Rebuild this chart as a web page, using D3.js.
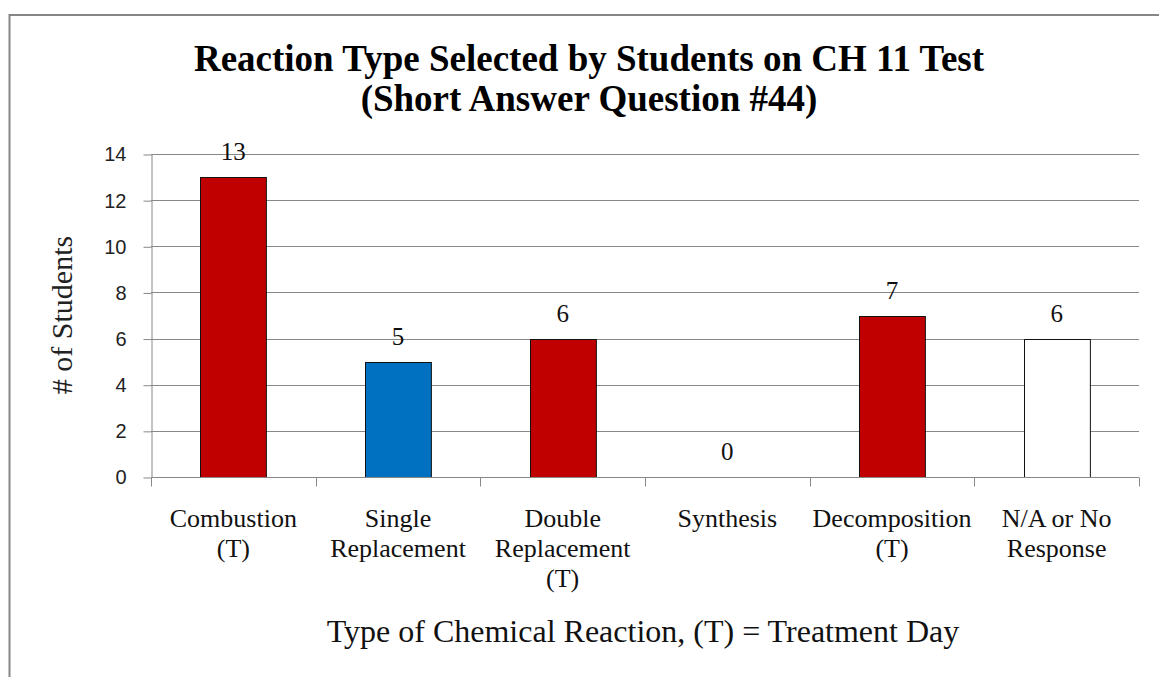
<!DOCTYPE html>
<html>
<head>
<meta charset="utf-8">
<script src="https://cdn.jsdelivr.net/npm/d3@7"></script>
<style>
  body { margin: 0; background: #fff; }
</style>
</head>
<body>
<svg id="chart" width="1159" height="677"></svg>
<script>
// data
var categories = [["Combustion", "(T)"], ["Single", "Replacement"], ["Double", "Replacement", "(T)"],
    ["Synthesis"], ["Decomposition", "(T)"], ["N/A or No", "Response"]];
var students = [13, 5, 6, 0, 7, 6];
var barColors = ["#c00000", "#0070c0", "#c00000", "#c00000", "#c00000", "#ffffff"];
var yTicks = [0, 2, 4, 6, 8, 10, 12, 14];

var svg = d3.select("svg#chart"),
    plotLeft = 151, plotRight = 1139, plotTop = 154, plotBottom = 477;

var serif = "'Liberation Serif', 'Times New Roman', serif";

// outer border of the chart area (runs off the right and bottom)
svg.append("rect")
    .attr("x", 9.5).attr("y", 15)
    .attr("width", 1200).attr("height", 700)
    .attr("fill", "none")
    .attr("stroke", "#868686")
    .attr("stroke-width", 2);

// title
var title = svg.append("text")
    .attr("text-anchor", "middle")
    .style("font-family", serif)
    .style("font-size", "37px")
    .style("font-weight", "bold");
title.append("tspan").attr("x", 589).attr("y", 71).text("Reaction Type Selected by Students on CH 11 Test");
title.append("tspan").attr("x", 589).attr("y", 111).text("(Short Answer Question #44)");

var x = d3.scaleBand()
    .domain(d3.range(categories.length))
    .range([plotLeft, plotRight])
    .paddingInner(0.6)
    .paddingOuter(0.3);

var xCat = d3.scaleBand()
    .domain(d3.range(categories.length))
    .range([plotLeft, plotRight]);

var y = d3.scaleLinear()
    .domain([0, 14])
    .range([plotBottom, plotTop]);

// gridlines
svg.append("g")
    .selectAll("line")
    .data(yTicks.slice(1))
    .enter()
    .append("line")
    .attr("x1", plotLeft).attr("x2", plotRight)
    .attr("y1", d => Math.round(y(d)) + 0.5)
    .attr("y2", d => Math.round(y(d)) + 0.5)
    .attr("stroke", "#888")
    .attr("stroke-width", 1);

// y axis
var yAxis = svg.append("g")
    .attr("transform", "translate(" + (plotLeft + 0.5) + ",0.5)")
    .call(d3.axisLeft(y).tickValues(yTicks).tickSize(8).tickPadding(17).tickSizeOuter(0));
yAxis.select(".domain").attr("stroke", "#888");
yAxis.selectAll(".tick line").attr("stroke", "#888");
yAxis.selectAll(".tick text")
    .style("font-family", "'Liberation Sans', Arial, sans-serif")
    .style("font-size", "20px")
    .attr("fill", "#222");

// bars
svg.append("g")
    .selectAll("rect")
    .data(students)
    .enter()
    .append("rect")
    .attr("x", (d, i) => Math.round(x(i)) + 0.5)
    .attr("y", d => Math.round(y(d)) + 0.5)
    .attr("width", x.bandwidth())
    .attr("height", d => y(0) - Math.round(y(d)))
    .attr("fill", (d, i) => barColors[i])
    .attr("stroke", d => d > 0 ? "#111" : "none")
    .attr("stroke-width", 1);

// x axis
var xAxis = svg.append("g")
    .attr("transform", "translate(0," + (plotBottom + 0.5) + ")");
xAxis.append("line")
    .attr("x1", plotLeft).attr("x2", plotRight)
    .attr("stroke", "#888");
xAxis.selectAll("line.tick")
    .data(d3.range(categories.length + 1))
    .enter()
    .append("line")
    .attr("class", "tick")
    .attr("x1", i => Math.round(plotLeft + i * xCat.step()) + 0.5)
    .attr("x2", i => Math.round(plotLeft + i * xCat.step()) + 0.5)
    .attr("y1", 0).attr("y2", 9)
    .attr("stroke", "#888");

// category labels
var catText = svg.append("g")
    .selectAll("text")
    .data(categories)
    .enter()
    .append("text")
    .attr("text-anchor", "middle")
    .style("font-family", serif)
    .style("font-size", "26px")
    .attr("fill", "#111");
catText.each(function (lines, i) {
    var t = d3.select(this);
    lines.forEach((line, k) => {
        t.append("tspan")
            .attr("x", xCat(i) + xCat.bandwidth() / 2)
            .attr("y", 527 + k * 30)
            .text(line);
    });
});

// value labels
svg.append("g")
    .selectAll("text")
    .data(students)
    .enter()
    .append("text")
    .attr("x", (d, i) => x(i) + x.bandwidth() / 2)
    .attr("y", d => y(d) - 17)
    .attr("text-anchor", "middle")
    .style("font-family", serif)
    .style("font-size", "25px")
    .attr("fill", "#111")
    .text(d => d);

// axis titles
svg.append("text")
    .attr("transform", "translate(72,315) rotate(-90)")
    .attr("text-anchor", "middle")
    .style("font-family", serif)
    .style("font-size", "30px")
    .attr("fill", "#222")
    .text("# of Students");

svg.append("text")
    .attr("x", 643)
    .attr("y", 642)
    .attr("text-anchor", "middle")
    .style("font-family", serif)
    .style("font-size", "32px")
    .attr("fill", "#111")
    .text("Type of Chemical Reaction, (T) = Treatment Day");
</script>
</body>
</html>
